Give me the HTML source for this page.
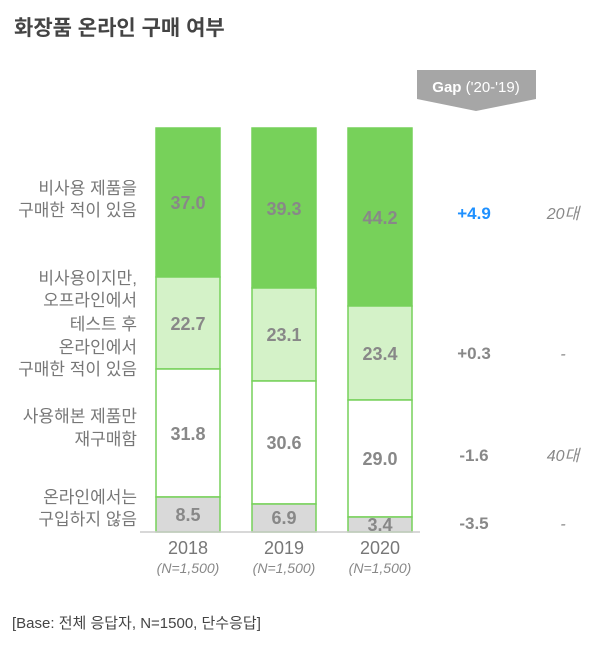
<!DOCTYPE html>
<html><head><meta charset="utf-8"><style>
body{margin:0;background:#fff;}
svg text{font-family:"Liberation Sans","Noto Sans CJK KR",sans-serif;}
</style></head><body>
<svg width="600" height="649" viewBox="0 0 600 649" xmlns="http://www.w3.org/2000/svg">
<text x="14" y="35" font-size="21" font-weight="bold" fill="#444">화장품 온라인 구매 여부</text>
<polygon points="417,70 536,70 536,99 476,111 417,99" fill="#a6a6a6"/>
<text x="476" y="92" font-size="15" fill="#fff" text-anchor="middle"><tspan font-weight="bold">Gap</tspan> ('20-'19)</text>
<g stroke="#77d15a" stroke-width="1.5">
<rect x="156" y="128" width="64" height="149" fill="#77d15a"/>
<rect x="156" y="277" width="64" height="92" fill="#d4f2c8"/>
<rect x="156" y="369" width="64" height="128" fill="#fff"/>
<rect x="156" y="497" width="64" height="35" fill="#d9d9d9"/>
<rect x="252" y="128" width="64" height="160" fill="#77d15a"/>
<rect x="252" y="288" width="64" height="93" fill="#d4f2c8"/>
<rect x="252" y="381" width="64" height="123" fill="#fff"/>
<rect x="252" y="504" width="64" height="28" fill="#d9d9d9"/>
<rect x="348" y="128" width="64" height="178" fill="#77d15a"/>
<rect x="348" y="306" width="64" height="94" fill="#d4f2c8"/>
<rect x="348" y="400" width="64" height="117" fill="#fff"/>
<rect x="348" y="517" width="64" height="15" fill="#d9d9d9"/>
</g>
<line x1="140" y1="532" x2="420" y2="532" stroke="#ccc" stroke-width="1.5"/>
<g font-size="18" font-weight="bold" fill="#888" text-anchor="middle">
<text x="188" y="209">37.0</text><text x="188" y="330">22.7</text><text x="188" y="440">31.8</text><text x="188" y="521">8.5</text>
<text x="284" y="215">39.3</text><text x="284" y="341">23.1</text><text x="284" y="449">30.6</text><text x="284" y="524">6.9</text>
<text x="380" y="224">44.2</text><text x="380" y="360">23.4</text><text x="380" y="465">29.0</text><text x="380" y="531">3.4</text>
</g>
<g font-size="17" fill="#777" text-anchor="end">
<text x="137" y="194">비사용 제품을</text><text x="137" y="216">구매한 적이 있음</text>
<text x="137" y="284">비사용이지만,</text><text x="137" y="306">오프라인에서</text><text x="137" y="330">테스트 후</text><text x="137" y="353">온라인에서</text><text x="137" y="375">구매한 적이 있음</text>
<text x="137" y="422">사용해본 제품만</text><text x="137" y="445">재구매함</text>
<text x="137" y="503">온라인에서는</text><text x="137" y="525">구입하지 않음</text>
</g>
<g font-size="18" fill="#777" text-anchor="middle">
<text x="188" y="554">2018</text><text x="284" y="554">2019</text><text x="380" y="554">2020</text>
</g>
<g font-size="14" font-style="italic" fill="#888" text-anchor="middle">
<text x="188" y="573">(N=1,500)</text><text x="284" y="573">(N=1,500)</text><text x="380" y="573">(N=1,500)</text>
</g>
<g font-size="17" font-weight="bold" text-anchor="middle" fill="#888">
<text x="474" y="219" fill="#1e90ff">+4.9</text>
<text x="474" y="359">+0.3</text>
<text x="474" y="461">-1.6</text>
<text x="474" y="529">-3.5</text>
</g>
<g font-size="16" font-style="italic" fill="#888" text-anchor="middle">
<text x="563" y="219">20대</text><text x="563" y="359">-</text><text x="563" y="461">40대</text><text x="563" y="529">-</text>
</g>
<text x="12" y="628" font-size="15" fill="#444">[Base: 전체 응답자, N=1500, 단수응답]</text>
</svg>
</body></html>
